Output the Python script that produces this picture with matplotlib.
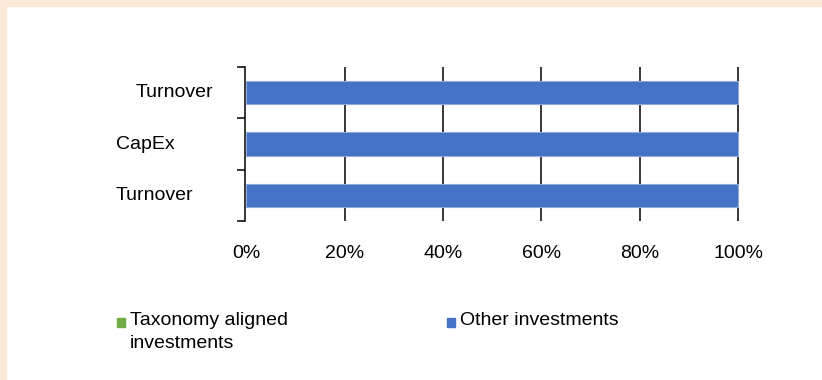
import matplotlib.pyplot as plt
from matplotlib.patches import Rectangle
import matplotlib.transforms as mtransforms

categories = ['Turnover', 'CapEx', 'Turnover']   # bottom to top
aligned = [0, 0, 0]
other = [100, 100, 100]
series_names = ['Taxonomy aligned\ninvestments', 'Other investments']
colors = ['#70AD47', '#4472C4']
x_ticks = [0, 20, 40, 60, 80, 100]

plt.rcParams['font.family'] = ['Liberation Sans', 'DejaVu Sans']

W, H = 822, 380
fig = plt.figure(figsize=(W / 100, H / 100), dpi=100)
ax = fig.add_axes([0.298, 0.4184, 0.6035, 0.4053])

# beige frame on top and left
border = '#FBE8D6'
fig.patches.append(Rectangle((0, 1 - 6 / H), 1, 6 / H, transform=fig.transFigure,
                             color=border, zorder=0))
fig.patches.append(Rectangle((0, 0), 6 / W, 1, transform=fig.transFigure,
                             color=border, zorder=0))

y = list(range(len(categories)))
ax.barh(y, aligned, height=0.45, color=colors[0], zorder=3)
ax.barh(y, other, left=aligned, height=0.45, color=colors[1],
        edgecolor='#8FAADC', linewidth=0.8, zorder=3)

ax.set_xlim(-0.3, 100.6)
ax.set_ylim(-0.5, len(categories) - 0.5)

for v in x_ticks[1:]:
    ax.axvline(v, color='black', linewidth=1.1, zorder=1)

ax.set_xticks(x_ticks)
ax.set_xticklabels([f'{v}%' for v in x_ticks], fontsize=14)
ax.tick_params(axis='x', length=0, pad=17)

ax.set_yticks([i - 0.5 for i in range(len(categories) + 1)])
ax.set_yticklabels([])
ax.tick_params(axis='y', length=6, width=1.1, color='black')

trans = mtransforms.blended_transform_factory(fig.transFigure, ax.transData)
for i, name in enumerate(categories):
    xoff = 136 if i == len(categories) - 1 else 116
    ax.text(xoff / W, i, name, transform=trans, ha='left', va='center',
            fontsize=14, clip_on=False)

for side in ['top', 'right', 'bottom']:
    ax.spines[side].set_visible(False)
ax.spines['left'].set_linewidth(1.1)
ax.spines['left'].set_position(('data', -0.3))

# legend drawn by hand so the marker sits on the first text line
legend_x = [117, 447]
for name, c, lx in zip(series_names, colors, legend_x):
    fig.patches.append(Rectangle((lx / W, 1 - 327 / H), 8 / W, 9 / H,
                                 transform=fig.transFigure, color=c))
    fig.text((lx + 13) / W, 1 - 312 / H, name, ha='left', va='top',
             fontsize=14, linespacing=1.45)

fig.savefig('out.png', dpi=100, facecolor='white')
